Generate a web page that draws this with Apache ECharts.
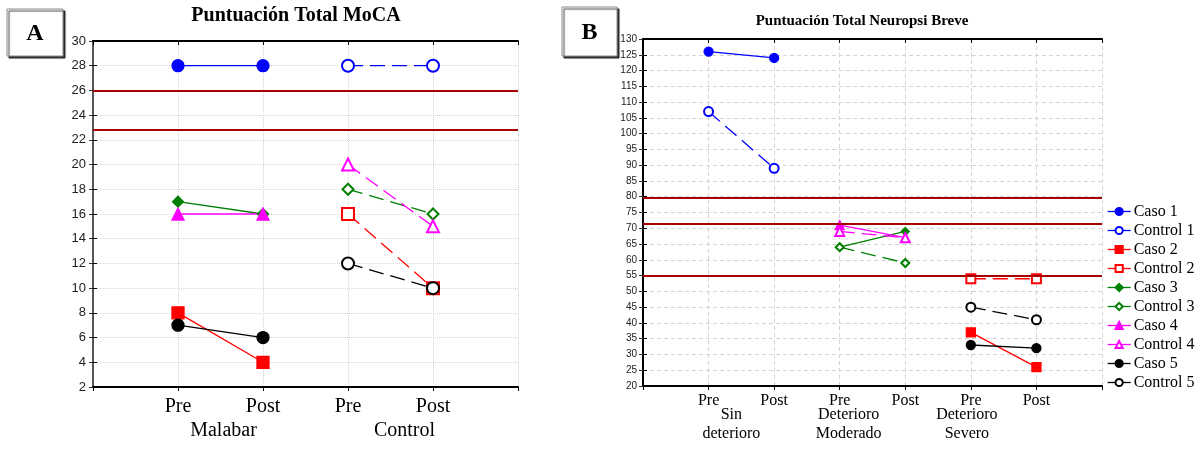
<!DOCTYPE html>
<html>
<head>
<meta charset="utf-8">
<script src="https://cdn.jsdelivr.net/npm/echarts@6/dist/echarts.min.js"></script>
<style>
  html, body { margin: 0; padding: 0; background: #fff; }
  #chart { width: 1204px; height: 449px; }
</style>
</head>
<body>
<div id="chart"></div>
<script>
const phaseLabels = ["Pre", "Post"];
const groupsA = ["Malabar", "Control"];
const groupsB = ["Sin\ndeterioro", "Deterioro\nModerado", "Deterioro\nSevero"];
const caseNames = ["Caso 1", "Caso 2", "Caso 3", "Caso 4", "Caso 5"];
const controlNames = ["Control 1", "Control 2", "Control 3", "Control 4", "Control 5"];
const colors = ["#0000ff", "#ff0000", "#008000", "#ff00ff", "#000000"];
const shapes = ["circle", "rect", "diamond", "triangle", "circle"];

// Panel A (MoCA): casos en grupo Malabar, controles en grupo Control
const casoA = [[28, 28], [8, 4], [17, 16], [16, 16], [7, 6]];
const controlA = [[28, 28], [16, 10], [18, 16], [20, 15], [12, 10]];
const cutoffsA = [26, 22.8];
const yTicksA = { min: 2, max: 30, step: 2 };

// Panel B (Neuropsi): cada pareja en su grupo de deterioro
const pairGroupB = [0, 2, 1, 1, 2];
const casoB = [[126, 124], [37, 26], [64, 69], [71, 67], [33, 32]];
const controlB = [[107, 89], [54, 54], [64, 59], [69, 67], [45, 41]];
const cutoffsB = [79.6, 71.3, 55];
const yTicksB = { min: 20, max: 130, step: 5 };

const SERIF = "Liberation Serif";
const SANS = "Liberation Sans";

function makeLine(name, vals, group, i, hollow, xIdx, yIdx, size) {
  return {
    name: name,
    type: "line",
    xAxisIndex: xIdx,
    yAxisIndex: yIdx,
    data: vals.map((v, p) => [group * 2 + 1 + p, v]),
    symbol: (hollow ? "empty" + shapes[i][0].toUpperCase() + shapes[i].slice(1) : shapes[i]),
    symbolSize: shapes[i] === "diamond" ? size - 1 : size,
    lineStyle: { color: colors[i], width: 1.3, type: hollow ? [15, 7] : "solid" },
    itemStyle: { color: colors[i], borderColor: colors[i], borderWidth: 1.3 },
    emphasis: { disabled: true },
    animation: false,
    z: 3
  };
}

function cutoffSeries(vals, xIdx, yIdx) {
  return {
    type: "line", xAxisIndex: xIdx, yAxisIndex: yIdx, data: [],
    markLine: {
      silent: true, symbol: "none", label: { show: false },
      lineStyle: { color: "#a80000", width: 2, type: "solid" },
      data: vals.map(v => ({ yAxis: v }))
    },
    animation: false, z: 2
  };
}

// wrap every line of a label in a rich token so it can be nudged sideways
function tokenize(label, key) {
  return label.split("\n").map(s => "{" + key + "|" + s + "}").join("\n");
}

function xAxes(gridIndex, nGroups, groupFmt, rich, fs, gfs, margin, gmargin, lh) {
  const max = nGroups * 2 + 1;
  return [
    {
      gridIndex, type: "value", min: 0, max, interval: 1, position: "bottom",
      axisLine: { lineStyle: { color: "#000", width: 2 } },
      axisTick: { show: true, inside: false, length: 4, lineStyle: { color: "#000" } },
      splitLine: { show: true, lineStyle: { color: "#d4d4d4", type: gridIndex === 0 ? "dotted" : [4, 3] } },
      axisLabel: {
        margin, fontFamily: SERIF, fontSize: fs, color: "#000", showMinLabel: true, showMaxLabel: true,
        formatter: v => (v >= 1 && v < max) ? phaseLabels[(v - 1) % 2] : ""
      }
    },
    {
      gridIndex, type: "value", min: 0, max, interval: 0.5, position: "bottom",
      axisLine: { show: false }, axisTick: { show: false }, splitLine: { show: false },
      axisLabel: {
        margin: gmargin, fontFamily: SERIF, fontSize: gfs, lineHeight: lh, color: "#000",
        formatter: groupFmt, rich
      }
    },
    {
      gridIndex, type: "value", min: 0, max, interval: 1, position: "top",
      axisLine: { lineStyle: { color: "#000", width: 2 } },
      axisTick: { show: true, inside: true, length: 4, lineStyle: { color: "#000" } },
      axisLabel: { show: false }, splitLine: { show: false }
    }
  ];
}

function yAxes(gridIndex, t, fs, margin, rightColor) {
  return [
    {
      gridIndex, type: "value", min: t.min, max: t.max, interval: t.step, position: "left",
      axisLine: { show: true, lineStyle: { color: "#000", width: 2 } },
      axisTick: { show: true, inside: true, length: 4, lineStyle: { color: "#000" } },
      splitLine: { show: true, lineStyle: { color: "#d4d4d4", type: gridIndex === 0 ? "dotted" : [4, 3] } },
      axisLabel: { margin, fontFamily: SANS, fontSize: fs, color: "#222" }
    },
    {
      gridIndex, type: "value", min: t.min, max: t.max, interval: t.step, position: "right",
      axisLine: { show: true, lineStyle: { color: rightColor, width: 2 } },
      axisTick: { show: true, inside: true, length: 4, lineStyle: { color: "#333" } },
      splitLine: { show: false }, axisLabel: { show: false }
    }
  ];
}

const series = [];
// panel B first so the legend picks up its markers
for (let i = 0; i < 5; i++) {
  series.push(makeLine(caseNames[i], casoB[i], pairGroupB[i], i, false, 3, 2, 9));
  series.push(makeLine(controlNames[i], controlB[i], pairGroupB[i], i, true, 3, 2, 9));
}
for (let i = 0; i < 5; i++) {
  series.push(makeLine(caseNames[i], casoA[i], 0, i, false, 0, 0, 12));
  series.push(makeLine(controlNames[i], controlA[i], 1, i, true, 0, 0, 12));
}
series.push(cutoffSeries(cutoffsA, 0, 0));
series.push(cutoffSeries(cutoffsB, 3, 2));

const legendNames = [];
caseNames.forEach((n, i) => { legendNames.push(n, controlNames[i]); });

function letterBox(x, y, w, h, letter) {
  return [
    {
      type: "rect", shape: { x, y, width: w, height: h }, silent: true,
      style: { fill: "#fff", stroke: "#8a8a8a", lineWidth: 1, shadowColor: "rgba(0,0,0,0.75)", shadowOffsetX: 2, shadowOffsetY: 2, shadowBlur: 1 }
    },
    {
      type: "text", x: x + w / 2, y: y + h / 2 + 1, silent: true,
      style: { text: letter, fill: "#000", font: "bold 24px 'Liberation Serif'", textAlign: "center", textVerticalAlign: "middle" }
    }
  ];
}

const richA = {
  g0: { fontFamily: SERIF, fontSize: 20, lineHeight: 20, padding: [0, 0, 0, 6] },
  g1: { fontFamily: SERIF, fontSize: 20, lineHeight: 20, padding: [0, 0, 0, 28] }
};
const richB = {
  g0: { fontFamily: SERIF, fontSize: 16, lineHeight: 19, padding: [0, 20, 0, 0] },
  g1: { fontFamily: SERIF, fontSize: 16, lineHeight: 19, padding: [0, 0, 0, 18] },
  g2: { fontFamily: SERIF, fontSize: 16, lineHeight: 19, padding: [0, 8, 0, 0] }
};

const chart = echarts.init(document.getElementById("chart"), null, { renderer: "canvas" });
chart.setOption({
  backgroundColor: "#fff",
  animation: false,
  title: [
    { text: "Puntuación Total MoCA", left: 296, top: 6, padding: 0, textAlign: "center",
      textStyle: { fontFamily: SERIF, fontWeight: "bold", fontSize: 20, color: "#000" } },
    { text: "Puntuación Total Neuropsi Breve", left: 862, top: 14, padding: 0, textAlign: "center",
      textStyle: { fontFamily: SERIF, fontWeight: "bold", fontSize: 15, color: "#000" } }
  ],
  legend: {
    data: legendNames, orient: "vertical", left: 1107, top: 203, padding: 0,
    itemWidth: 23, itemHeight: 9, itemGap: 2, selectedMode: false,
    lineStyle: { type: "solid", width: 1.3 },
    textStyle: { fontFamily: SERIF, fontSize: 16, lineHeight: 17, color: "#000", padding: [0, 0, 0, -2] }
  },
  grid: [
    { left: 93, top: 41, width: 425, height: 346 },
    { left: 643, top: 39, width: 459, height: 347 }
  ],
  xAxis: [
    ...xAxes(0, 2, v => {
      const g = (v - 1.5) / 2;
      return Number.isInteger(g) && g >= 0 && g < groupsA.length ? tokenize(groupsA[g], "g" + g) : "";
    }, richA, 20, 20, 10, 34, 20),
    ...xAxes(1, 3, v => {
      // group labels: first one between Pre and Post, the others under "Pre"
      if (v === 1.5) return tokenize(groupsB[0], "g0");
      if (v === 3) return tokenize(groupsB[1], "g1");
      if (v === 5) return tokenize(groupsB[2], "g2");
      return "";
    }, richB, 16, 16, 7, 19, 19)
  ],
  yAxis: [
    ...yAxes(0, yTicksA, 13, 7, "#555"),
    ...yAxes(1, yTicksB, 10, 6, "#000")
  ],
  series,
  graphic: [
    ...letterBox(7, 9, 56, 47, "A"),
    ...letterBox(562, 7, 55, 49, "B")
  ]
});
</script>
</body>
</html>
